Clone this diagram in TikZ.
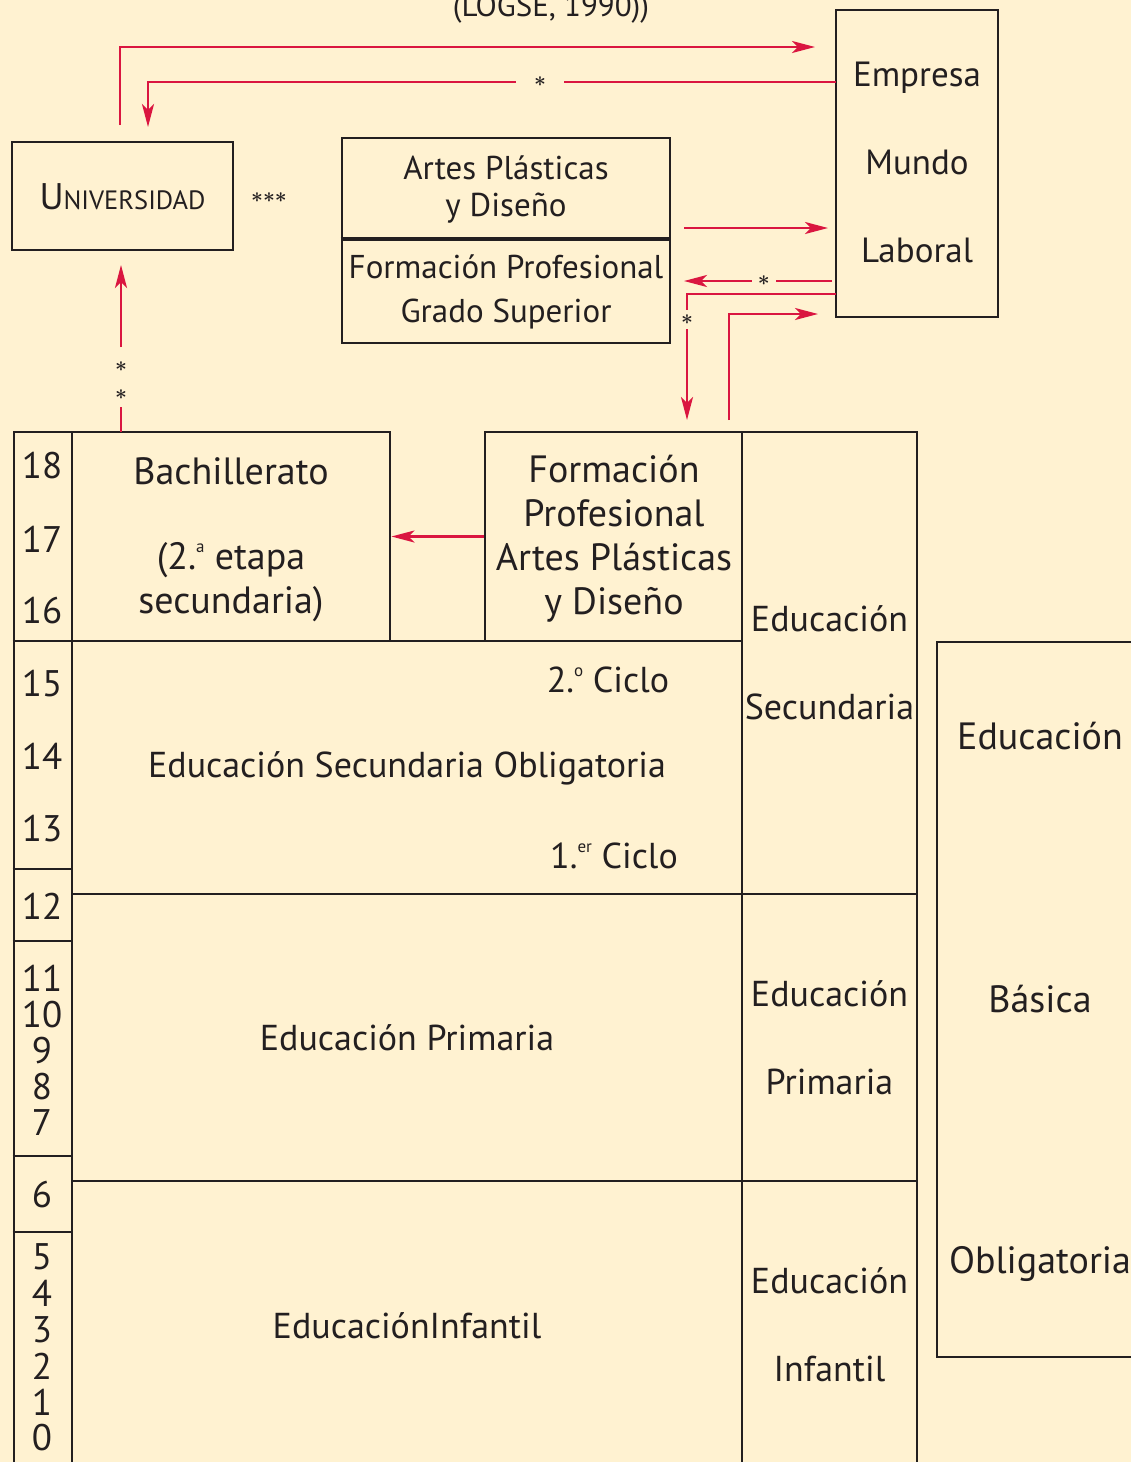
\documentclass[tikz,border=0pt]{standalone}
\usepackage{amsmath}
\usepackage{fontspec}
\setmainfont{PT Sans}
\usetikzlibrary{arrows.meta}
\definecolor{bg}{RGB}{255,242,209}
\definecolor{lred}{RGB}{218,22,64}
\definecolor{ink}{RGB}{35,31,32}
\newcommand{\sups}[1]{\raisebox{0.45em}{\fontsize{17}{17}\selectfont #1}}
\newcommand{\bast}{\ensuremath{\boldsymbol{\ast}}}
\begin{document}
\begin{tikzpicture}[x=1pt,y=-1pt,
  box/.style={draw=ink, line width=2.9pt, inner sep=0pt},
  thinln/.style={draw=ink, line width=1.5pt},
  conn/.style={draw=lred, line width=2.6pt},
  tip/.style={-{Stealth[length=23pt,width=12pt,inset=6pt]}},
  big/.style={text=ink, font=\fontsize{38}{44}\selectfont, inner sep=0pt, align=center},
  mid/.style={text=ink, font=\fontsize{36}{40}\selectfont, inner sep=0pt, align=center},
  med/.style={text=ink, font=\fontsize{33}{37}\selectfont, inner sep=0pt, align=center},
  agetxt/.style={text=ink, font=\fontsize{37}{36}\selectfont, inner sep=0pt},
  star/.style={text=ink, font=\fontsize{21}{21}\selectfont, inner sep=0pt, fill=bg}]
\fill[bg] (0,0) rectangle (1131,1462);
\useasboundingbox (0,0) rectangle (1131,1462);

% title remnant
\node[text=ink, font=\fontsize{31}{31}\selectfont, inner sep=0pt, anchor=base] (title) at (551,16) {(LOGSE, 1990))};

% upper boxes
\node[box, minimum width=221pt, minimum height=108pt] (univ) at (122.5,196) {};
\node[text=ink, inner sep=0pt] (univt) at (122.5,197) {\fontsize{37}{37}\selectfont U\fontsize{26.5}{26.5}\selectfont NIVERSIDAD};
\node[text=ink, font=\fontsize{20}{20}\selectfont, inner sep=0pt] (stars3) at (269,198) {$\boldsymbol{{\ast}{\ast}{\ast}}$};
\node[box, minimum width=328pt, minimum height=100pt] (artes) at (506,188) {};
\node[med] (artest) at (506,189) {Artes Plásticas\\y Diseño};
\node[box, minimum width=328pt, minimum height=105pt] (fpgs) at (506,290.5) {};
\node[med] (fpgst) at (506,292) {Formación Profesional\\[7pt]Grado Superior};
\draw[ink, line width=4pt] (artes.south west) -- (artes.south east);
\node[box, minimum width=162pt, minimum height=307pt] (empresa) at (917,163.5) {};
\node[text=ink, font=\fontsize{35}{35}\selectfont, inner sep=0pt] (empt1) at (917,78) {Empresa};
\node[text=ink, font=\fontsize{35}{35}\selectfont, inner sep=0pt] (empt2) at (917,162) {Mundo};
\node[text=ink, font=\fontsize{35}{35}\selectfont, inner sep=0pt] (empt3) at (917,250) {Laboral};

% main table
\node[box, minimum width=58pt, minimum height=1060pt] (agecol) at (43,962) {};
\node[box, minimum width=318pt, minimum height=209pt] (bach) at (231,536.5) {};
\node[box, minimum width=257pt, minimum height=209pt] (fp) at (613.5,536.5) {};
\node[box, minimum width=670pt, minimum height=253pt] (eso) at (407,767.5) {};
\node[box, minimum width=670pt, minimum height=287pt] (prim) at (407,1037.5) {};
\node[box, minimum width=670pt, minimum height=310pt] (inf) at (407,1336) {};
\node[box, minimum width=175pt, minimum height=462pt] (secR) at (829.5,663) {};
\node[box, minimum width=175pt, minimum height=287pt] (primR) at (829.5,1037.5) {};
\node[box, minimum width=175pt, minimum height=310pt] (infR) at (829.5,1336) {};
\node[box, minimum width=230pt, minimum height=715pt] (basica) at (1052,999.5) {};

% age dividers
\foreach \yy in {641,869,941,1156,1232}
  \draw[thinln] (agecol.west |- 0,\yy) -- (agecol.east |- 0,\yy);

% age numbers
\foreach \n/\yy in {18/466,17/539,16/611,15/684,14/756,13/829,12/906,11/978,10/1015,9/1051,8/1087,7/1123,6/1195,5/1257,4/1293,3/1330,2/1366,1/1402,0/1438}
  \node[agetxt] (age\n) at (42,\yy) {\n};

% texts in table
\node[big] (bacht) at (231,471) {Bachillerato};
\node[big] (bacht2) at (231,582) {(2.\sups{a} etapa\\secundaria)};
\node[big] (fpt) at (614,539) {Formación\\Profesional\\Artes Plásticas\\y Diseño};
\node[mid] (ciclo2) at (608,680) {2.\sups{o} Ciclo};
\node[mid] (esot) at (407,768) {Educación Secundaria Obligatoria};
\node[mid] (ciclo1) at (614,856) {1.\sups{er} Ciclo};
\node[mid] (primt) at (407,1038) {Educación Primaria};
\node[mid] (inft) at (407,1326) {EducaciónInfantil};
\node[mid] (secRt1) at (829.5,619) {Educación};
\node[mid] (secRt2) at (829.5,707) {Secundaria};
\node[mid] (primRt1) at (829.5,994) {Educación};
\node[mid] (primRt2) at (829.5,1082) {Primaria};
\node[mid] (infRt1) at (829.5,1281) {Educación};
\node[mid] (infRt2) at (829.5,1369) {Infantil};
\node[big] (basT1) at (1040,736) {Educación};
\node[big] (basT2) at (1040,999) {Básica};
\node[big] (basT3) at (1040,1264) {Obligatoria};

% connector coordinates
\coordinate (u0) at (120,125);
\coordinate (e0) at (815,47);
\coordinate (e1) at (836,82);
\coordinate (u1) at (148,127);
\coordinate (f0) at (684,228);
\coordinate (e2) at (828,228);
\coordinate (e3) at (832,281);
\coordinate (f1) at (684,281);
\coordinate (e4) at (836,294);
\coordinate (p4) at (687,420);
\coordinate (p5) at (729,420);
\coordinate (e5) at (818,314);
\coordinate (b0) at (121,432);
\coordinate (b1) at (121,407);
\coordinate (b2) at (121,347);
\coordinate (u2) at (121,265);

\draw[conn,tip] (u0) |- (e0);
\draw[conn,tip] (e1) -- node[star, pos=0.43, minimum width=48pt, minimum height=14pt] {\bast} (u1 |- e1) -- (u1);
\draw[conn,tip] (f0) -- (e2);
\draw[conn,tip] (e3) -- node[star, pos=0.46, minimum width=24pt, minimum height=14pt] {\bast} (f1);
\draw[conn,tip] (e4) -- (p4 |- e4) -- node[star, pos=0.2, minimum height=19pt, minimum width=14pt] {\bast} (p4);
\draw[conn,tip] (p5) |- (e5);
\draw[conn,tip] (fp.west) -- (bach.east);
\draw[conn] (b0) -- (b1);
\draw[conn,tip] (b2) -- (u2);
\node[text=ink, font=\fontsize{21}{21}\selectfont, inner sep=0pt] (sa) at (121,367) {\bast};
\node[text=ink, font=\fontsize{21}{21}\selectfont, inner sep=0pt] (sb) at (121,395) {\bast};
\end{tikzpicture}
\end{document}
